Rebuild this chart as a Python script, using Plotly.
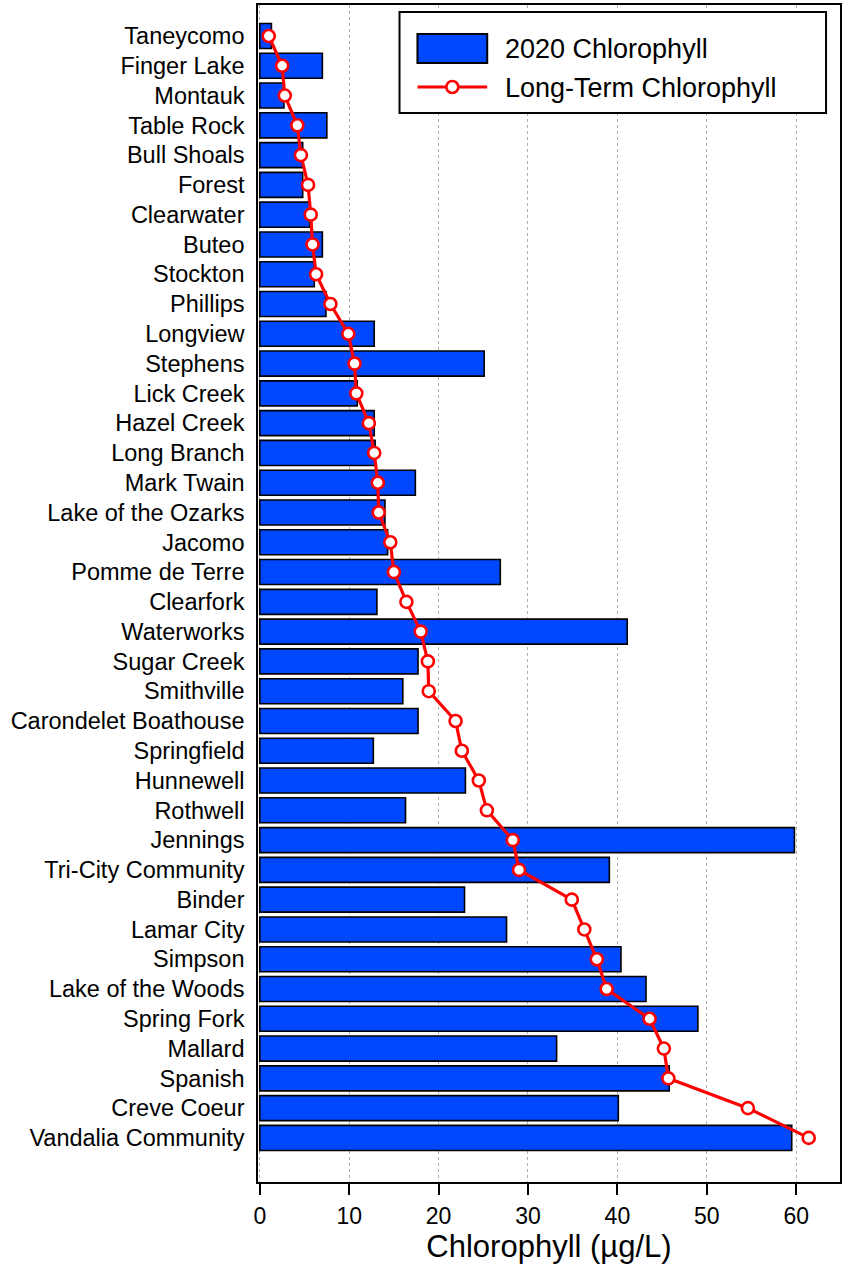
import plotly.graph_objects as go

# Lakes, ordered by long-term mean chlorophyll (lowest at top)
lakes = [
    "Taneycomo", "Finger Lake", "Montauk", "Table Rock", "Bull Shoals", "Forest",
    "Clearwater", "Buteo", "Stockton", "Phillips", "Longview", "Stephens",
    "Lick Creek", "Hazel Creek", "Long Branch", "Mark Twain", "Lake of the Ozarks",
    "Jacomo", "Pomme de Terre", "Clearfork", "Waterworks", "Sugar Creek",
    "Smithville", "Carondelet Boathouse", "Springfield", "Hunnewell", "Rothwell",
    "Jennings", "Tri-City Community", "Binder", "Lamar City", "Simpson",
    "Lake of the Woods", "Spring Fork", "Mallard", "Spanish", "Creve Coeur",
    "Vandalia Community",
]

# 2020 season chlorophyll (µg/L)
chl_2020 = [
    1.3, 7.0, 2.7, 7.5, 4.8, 4.8,
    5.6, 7.0, 6.1, 7.4, 12.8, 25.1,
    10.9, 12.8, 12.9, 17.4, 14.0,
    14.3, 26.9, 13.1, 41.1, 17.7,
    16.0, 17.7, 12.7, 23.0, 16.3,
    59.8, 39.1, 22.9, 27.6, 40.4,
    43.2, 49.0, 33.2, 45.8, 40.1,
    59.5,
]

# Long-term mean chlorophyll (µg/L)
chl_long = [
    1.0, 2.5, 2.8, 4.2, 4.6, 5.4,
    5.7, 5.9, 6.3, 7.9, 9.9, 10.6,
    10.8, 12.2, 12.8, 13.2, 13.3,
    14.6, 15.0, 16.4, 18.0, 18.8,
    18.9, 21.9, 22.6, 24.5, 25.4,
    28.3, 29.0, 34.9, 36.3, 37.7,
    38.8, 43.6, 45.2, 45.7, 54.6,
    61.4,
]

x_ticks = [0, 10, 20, 30, 40, 50, 60]

series_names = ["2020 Chlorophyll", "Long-Term Chlorophyll"]

FONT = "Liberation Sans, Arial, sans-serif"
BAR_BLUE = "#0048ff"
LINE_RED = "#ff0000"

W, H = 845, 1264
M_L, M_R, M_T, M_B = 258, 3, 5, 82
plot_w = W - M_L - M_R
plot_h = H - M_T - M_B


def px(x):
    """Pixel column -> paper x."""
    return (x - M_L) / plot_w


def py(y):
    """Pixel row -> paper y."""
    return (H - M_B - y) / plot_h


fig = go.Figure()

fig.add_trace(go.Bar(
    y=lakes,
    x=chl_2020,
    orientation="h",
    width=0.84,
    name=series_names[0],
    showlegend=False,
    marker=dict(color=BAR_BLUE, line=dict(color="black", width=1.6)),
))

fig.add_trace(go.Scatter(
    y=lakes,
    x=chl_long,
    mode="lines+markers",
    name=series_names[1],
    showlegend=False,
    line=dict(color=LINE_RED, width=3.2),
    marker=dict(symbol="circle", size=12, color="white",
                line=dict(color=LINE_RED, width=2.6)),
))

# Legend box drawn in paper space, with wide swatches
shapes = [
    dict(type="rect", xref="paper", yref="paper",
         x0=px(400), x1=px(828), y0=py(113), y1=py(12),
         fillcolor="white", line=dict(color="black", width=2), layer="above"),
    dict(type="rect", xref="paper", yref="paper",
         x0=px(418), x1=px(488), y0=py(63), y1=py(34),
         fillcolor=BAR_BLUE, line=dict(color="black", width=2), layer="above"),
    dict(type="line", xref="paper", yref="paper",
         x0=px(418), x1=px(488), y0=py(87), y1=py(87),
         line=dict(color=LINE_RED, width=3.2), layer="above"),
    dict(type="circle", xref="paper", yref="paper",
         x0=px(447), x1=px(459), y0=py(93), y1=py(81),
         fillcolor="white", line=dict(color=LINE_RED, width=2.6), layer="above"),
]

annotations = [
    dict(text=series_names[0], xref="paper", yref="paper",
         x=px(504), y=py(49), xanchor="left", yanchor="middle", showarrow=False,
         font=dict(size=27, family=FONT, color="black")),
    dict(text=series_names[1], xref="paper", yref="paper",
         x=px(504), y=py(88), xanchor="left", yanchor="middle", showarrow=False,
         font=dict(size=27, family=FONT, color="black")),
]

fig.update_layout(
    width=W,
    height=H,
    margin=dict(l=M_L, r=M_R, t=M_T, b=M_B),
    paper_bgcolor="white",
    plot_bgcolor="white",
    font=dict(family=FONT, color="black"),
    showlegend=False,
    shapes=shapes,
    annotations=annotations,
)

fig.update_xaxes(
    range=[-0.2, 64.9],
    tickvals=x_ticks,
    ticktext=[str(v) for v in x_ticks],
    tickfont=dict(size=23, family=FONT, color="black"),
    ticks="outside", ticklen=11, tickwidth=1.6, tickcolor="black",
    ticklabelstandoff=2,
    showline=True, linecolor="black", linewidth=1.6, mirror=True,
    showgrid=True, gridcolor="#b0b0b0", griddash="dot", gridwidth=1,
    zeroline=False,
    title=dict(text="Chlorophyll (µg/L)",
               font=dict(size=31, family=FONT, color="black"),
               standoff=2),
)

fig.update_yaxes(
    type="category",
    categoryorder="array",
    categoryarray=lakes,
    range=[38.48, -1.04],
    tickfont=dict(size=23.5, family=FONT, color="black"),
    ticks="", ticklabelstandoff=7,
    showline=True, linecolor="black", linewidth=1.6, mirror=True,
    showgrid=False,
    zeroline=False,
)

fig.write_html("out.html")
